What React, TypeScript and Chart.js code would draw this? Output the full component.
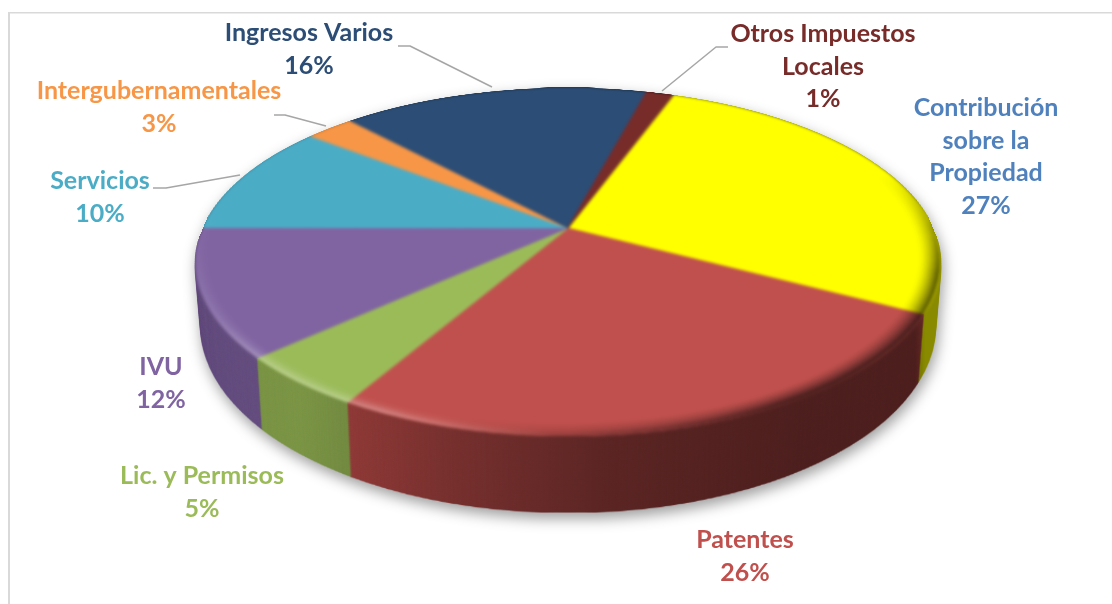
import React, { useEffect, useRef } from "react";
import { Chart, registerables } from "chart.js";

Chart.register(...registerables);

const categories = [
  "Contribución sobre la Propiedad",
  "Patentes",
  "Lic. y Permisos",
  "IVU",
  "Servicios",
  "Intergubernamentales",
  "Ingresos Varios",
  "Otros Impuestos Locales",
];
const shares = [27.2, 25.6, 4.86, 11.8, 10.49, 2.53, 16.05, 1.44];
const sliceColors = ["#FFFF00", "#C0504D", "#9BBB59", "#8064A2", "#4BACC6", "#F79646", "#2C4D75", "#772C2A"];
const labelColors = ["#4F81BD", "#C0504D", "#9BBB59", "#8064A2", "#4BACC6", "#F79646", "#2C4D75", "#772C2A"];

// Wrapped label lines, one entry for each category (the share is appended when drawn)
const labelLines = [
  ["Contribución", "sobre la", "Propiedad"],
  ["Patentes"],
  ["Lic. y Permisos"],
  ["IVU"],
  ["Servicios"],
  ["Intergubernamentales"],
  ["Ingresos Varios"],
  ["Otros Impuestos", "Locales"],
];
const labelAnchorX = [986, 745, 202, 161, 100, 159, 309, 823];
const labelAnchorY = [108, 540, 476, 367, 181, 91, 33, 34];
const LINE_HEIGHT = 32.6;
const FONT = "bold 25px Lato";

const leaderLines = [
  [[398, 46], [410, 46], [492, 87]],
  [[728, 47], [716, 47], [662, 91]],
  [[274, 115], [285, 115], [326, 126]],
  [[153, 188], [166, 188], [240, 175]],
];

// Perspective of the pie's top face
const CX = 568;
const CY = 228;
const PX = 365; // horizontal half-width at the apex row
const PY = 167.4; // vertical scale
const PK = 0.195; // perspective strength
const SRC_R = 400;
// Extrusion from top disc to bottom disc
const DEPTH_Y = 62;
const DEPTH_SX = 0.985;
const DEPTH_SY = 1.07;
const DEPTH_LAYERS = 110;

function makeCanvas(w: number, h: number) {
  const c = document.createElement("canvas");
  c.width = w;
  c.height = h;
  return c;
}

function warpDisc(src: HTMLCanvasElement, dest: CanvasRenderingContext2D) {
  const yTop = Math.floor(CY - PY / (1 + PK));
  const yBot = Math.ceil(CY + PY / (1 - PK));
  for (let y = yTop; y <= yBot; y++) {
    const d0 = y - CY;
    const d1 = y + 1 - CY;
    const v0 = d0 / (PY + PK * d0);
    const v1 = d1 / (PY + PK * d1);
    const vm = (v0 + v1) / 2;
    const half = PX / (1 - PK * vm);
    const sy0 = Math.max(0, SRC_R + v0 * SRC_R);
    const sy1 = Math.min(2 * SRC_R, SRC_R + v1 * SRC_R);
    if (sy1 <= sy0) continue;
    dest.drawImage(src, 0, sy0, 2 * SRC_R, sy1 - sy0, CX - half, y, 2 * half, 1);
  }
}

function drawRim(off: CanvasRenderingContext2D) {
  const deg = (d: number) => d / 360;
  // Dark fall-off on the right and front-right of the rim
  const dark = (off as any).createConicGradient(-Math.PI / 2, SRC_R, SRC_R);
  dark.addColorStop(deg(0), "rgba(0,0,0,0)");
  dark.addColorStop(deg(70), "rgba(0,0,0,0)");
  dark.addColorStop(deg(105), "rgba(0,0,0,0.65)");
  dark.addColorStop(deg(150), "rgba(0,0,0,0.65)");
  dark.addColorStop(deg(185), "rgba(0,0,0,0.15)");
  dark.addColorStop(deg(198), "rgba(0,0,0,0)");
  dark.addColorStop(deg(360), "rgba(0,0,0,0)");
  // Bright highlight on the front-left of the rim
  const light = (off as any).createConicGradient(-Math.PI / 2, SRC_R, SRC_R);
  light.addColorStop(deg(0), "rgba(255,255,255,0)");
  light.addColorStop(deg(182), "rgba(255,255,255,0)");
  light.addColorStop(deg(205), "rgba(255,255,255,0.30)");
  light.addColorStop(deg(228), "rgba(255,255,255,0.28)");
  light.addColorStop(deg(240), "rgba(255,255,255,0.14)");
  light.addColorStop(deg(262), "rgba(255,255,255,0.03)");
  light.addColorStop(deg(285), "rgba(255,255,255,0)");
  light.addColorStop(deg(360), "rgba(255,255,255,0)");
  off.save();
  off.globalCompositeOperation = "source-atop";
  off.lineWidth = 2.2;
  const rings = (style: any, steps: number, power: number) => {
    off.strokeStyle = style;
    for (let j = 0; j < steps; j++) {
      off.globalAlpha = Math.pow(1 - j / steps, power);
      off.beginPath();
      off.arc(SRC_R, SRC_R, SRC_R - 1 - j * 2, 0, Math.PI * 2);
      off.stroke();
    }
  };
  rings(dark, 11, 1.6);
  rings(light, 8, 1.8);
  off.restore();
}

const pie3d = {
  id: "pie3d",
  beforeDraw(chart: any) {
    const ctx: CanvasRenderingContext2D = chart.ctx;
    ctx.save();
    ctx.fillStyle = "#ffffff";
    ctx.fillRect(0, 0, chart.width, chart.height);
    ctx.fillStyle = "#d9d9d9";
    ctx.fillRect(8, 12, 2, chart.height - 12);
    ctx.fillRect(8, 12, chart.width - 8, 1.5);
    ctx.restore();
  },
  beforeDatasetsDraw(chart: any) {
    const ctx: CanvasRenderingContext2D = chart.ctx;
    const arcs = chart.getDatasetMeta(0).data;
    const first = arcs[0];
    const scale = SRC_R / first.outerRadius;

    // Flat disc, drawn by the library's own arc elements
    const flat = makeCanvas(2 * SRC_R, 2 * SRC_R);
    const fctx = flat.getContext("2d")!;
    fctx.translate(SRC_R, SRC_R);
    fctx.scale(scale, scale);
    fctx.translate(-first.x, -first.y);
    arcs.forEach((a: any) => a.draw(fctx));
    fctx.setTransform(1, 0, 0, 1, 0, 0);

    const W = chart.width;
    const H = chart.height;

    const plain = makeCanvas(W, H);
    warpDisc(flat, plain.getContext("2d")!);

    // Side wall: the disc extruded downwards
    const wall = makeCanvas(W, H);
    const wctx = wall.getContext("2d")!;
    for (let i = DEPTH_LAYERS; i >= 0; i--) {
      const t = i / DEPTH_LAYERS;
      const sx = 1 + (DEPTH_SX - 1) * t;
      const sy = 1 + (DEPTH_SY - 1) * t;
      wctx.setTransform(sx, 0, 0, sy, CX * (1 - sx), CY * (1 - sy) + DEPTH_Y * t);
      wctx.drawImage(plain, 0, 0);
    }
    wctx.setTransform(1, 0, 0, 1, 0, 0);
    const shade = wctx.createLinearGradient(196, 0, 940, 0);
    const stop = (x: number) => (x - 196) / (940 - 196);
    shade.addColorStop(stop(196), "rgba(0,0,0,0.22)");
    shade.addColorStop(stop(300), "rgba(0,0,0,0.20)");
    shade.addColorStop(stop(350), "rgba(0,0,0,0.26)");
    shade.addColorStop(stop(450), "rgba(0,0,0,0.38)");
    shade.addColorStop(stop(600), "rgba(0,0,0,0.52)");
    shade.addColorStop(stop(800), "rgba(0,0,0,0.60)");
    shade.addColorStop(stop(915), "rgba(0,0,0,0.60)");
    shade.addColorStop(stop(925), "rgba(0,0,0,0.46)");
    shade.addColorStop(stop(940), "rgba(0,0,0,0.46)");
    wctx.globalCompositeOperation = "source-atop";
    wctx.fillStyle = shade;
    wctx.fillRect(0, 0, W, H);

    // Top face with a bevelled rim, softened into the wall; the wall's silhouette clips it
    drawRim(fctx);
    const top = makeCanvas(W, H);
    warpDisc(flat, top.getContext("2d")!);
    wctx.filter = "blur(1.4px)";
    wctx.drawImage(top, 0, 0);
    wctx.filter = "none";
    wctx.globalCompositeOperation = "source-over";

    // Soft ground shadow under the solid
    ctx.save();
    ctx.shadowColor = "rgba(0,0,0,0.38)";
    ctx.shadowBlur = 14;
    ctx.shadowOffsetY = 6;
    ctx.shadowOffsetX = 2;
    ctx.drawImage(wall, 0, 0);
    ctx.restore();
    return false;
  },
  afterDraw(chart: any) {
    const ctx: CanvasRenderingContext2D = chart.ctx;
    ctx.save();
    ctx.strokeStyle = "#a6a6a6";
    ctx.lineWidth = 1.5;
    ctx.lineJoin = "round";
    leaderLines.forEach((pts) => {
      ctx.beginPath();
      pts.forEach(([x, y], i) => (i ? ctx.lineTo(x, y) : ctx.moveTo(x, y)));
      ctx.stroke();
    });
    ctx.font = FONT;
    ctx.textAlign = "center";
    ctx.textBaseline = "middle";
    categories.forEach((_, i) => {
      ctx.fillStyle = labelColors[i];
      const lines = [...labelLines[i], `${Math.round(shares[i])}%`];
      lines.forEach((line, j) => {
        ctx.fillText(line, labelAnchorX[i], labelAnchorY[i] + j * LINE_HEIGHT);
      });
    });
    ctx.restore();
  },
};

export default function App() {
  const ref = useRef<HTMLCanvasElement>(null);
  useEffect(() => {
    const chart = new Chart(ref.current!, {
      type: "pie",
      data: {
        labels: categories,
        datasets: [
          {
            data: shares,
            backgroundColor: sliceColors,
            borderColor: sliceColors,
            borderWidth: 1,
          },
        ],
      },
      options: {
        animation: false,
        responsive: false,
        maintainAspectRatio: false,
        rotation: 20,
        plugins: { legend: { display: false }, tooltip: { enabled: false } },
      },
      plugins: [pie3d as any],
    });
    return () => chart.destroy();
  }, []);
  return (
    <div style={{ position: "fixed", left: 0, top: 0, width: 1112, height: 604 }}>
      <canvas ref={ref} width={1112} height={604} style={{ display: "block" }} />
    </div>
  );
}
